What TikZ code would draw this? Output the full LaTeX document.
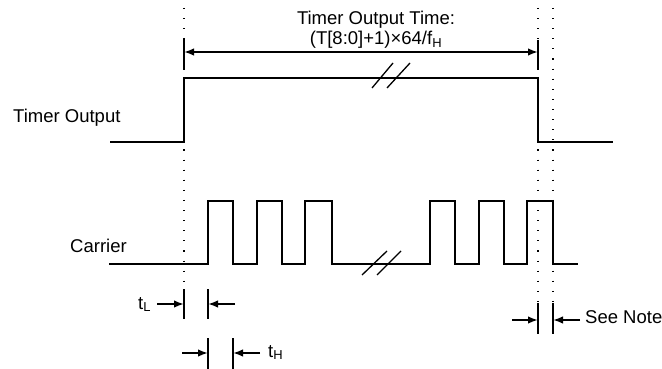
\documentclass[tikz,border=0pt]{standalone}
\usepackage{fontspec}
\setmainfont{Liberation Sans}
\usetikzlibrary{arrows.meta, positioning}

\begin{document}
\begin{tikzpicture}[
      x=1pt, y=-1pt,
      >={Latex[length=10pt, width=7.5pt]},
      signal/.style={line width=1.9pt, line join=miter},
      guide/.style={line width=1.1pt, dash pattern=on 1.1pt off 9pt},
      tick/.style={line width=1.4pt},
      dim/.style={line width=1.6pt, ->},
      txt/.style={font=\fontsize{18.5}{22}\selectfont, inner sep=0pt},
    ]
    \useasboundingbox (0,0) rectangle (662,369);

    % guide lines
    \draw[guide] (184,8) -- (184,286);
    \draw[guide] (538,8) -- (538,306);
    \draw[guide] (553,8) -- (553,306);

    % labels
    \node[txt, anchor=base]      (title)   at (376,25)  {Timer Output Time:};
    \node[txt, anchor=base]      (formula) at (376,45)  {(T[8:0]+1)×64/f\textsubscript{H}};
    \node[txt, anchor=base west] (timer)   at (13,123)  {Timer Output};
    \node[txt, anchor=base west] (carrier) at (70,252)  {Carrier};
    \node[txt, anchor=base west] (tl)      at (138,309) {t\textsubscript{L}};
    \node[txt, anchor=base west] (th)      at (268,357) {t\textsubscript{H}};
    \node[txt, anchor=base west] (note)    at (585,323) {See Note};

    % timer output
    \draw[signal] (110,142) -- (184,142) -- (184,78) -- (538,78)
      -- (538,142) -- (613,142);
    \draw[signal, line width=1.3pt] (372,88) -- (393,63) (387,88) -- (410,63);

    % carrier
    \draw[signal] (109,264) -- (208,264)
      -- (208,201) -- (233,201) -- (233,264) -- (257,264)
      -- (257,201) -- (282,201) -- (282,264) -- (305,264)
      -- (305,201) -- (332,201) -- (332,264) -- (430,264)
      -- (430,201) -- (455,201) -- (455,264) -- (479,264)
      -- (479,201) -- (504,201) -- (504,264) -- (527,264)
      -- (527,201) -- (553,201) -- (553,264) -- (578,264);
    \draw[signal, line width=1.3pt] (362,275) -- (387,251) (377,275) -- (401,251);

    % timer output time
    \coordinate (tstart) at (184,52);
    \coordinate (tend)   at (538,52);
    \draw[tick] (184,38) -- (184,70) (538,40) -- (538,70);
    \draw[dim, <->] (tstart) -- (tend);

    % t_L
    \coordinate (tl a) at (157,304);
    \coordinate (tl b) at (184,304);
    \coordinate (tl c) at (235,304);
    \coordinate (tl d) at (208,304);
    \draw[tick] (184,289) -- (184,319) (208,289) -- (208,319);
    \draw[dim] (tl a) -- (tl b);
    \draw[dim] (tl c) -- (tl d);

    % t_H
    \coordinate (th a) at (182,353);
    \coordinate (th b) at (208,353);
    \coordinate (th c) at (260,353);
    \coordinate (th d) at (233,353);
    \draw[tick] (208,338) -- (208,369) (233,338) -- (233,369);
    \draw[dim] (th a) -- (th b);
    \draw[dim] (th c) -- (th d);

    % see note
    \coordinate (sn a) at (512,320);
    \coordinate (sn b) at (538,320);
    \coordinate (sn c) at (580,320);
    \coordinate (sn d) at (553,320);
    \draw[tick] (538,303) -- (538,334) (553,303) -- (553,334);
    \draw[dim] (sn a) -- (sn b);
    \draw[dim] (sn c) -- (sn d);

  \end{tikzpicture}
\end{document}
